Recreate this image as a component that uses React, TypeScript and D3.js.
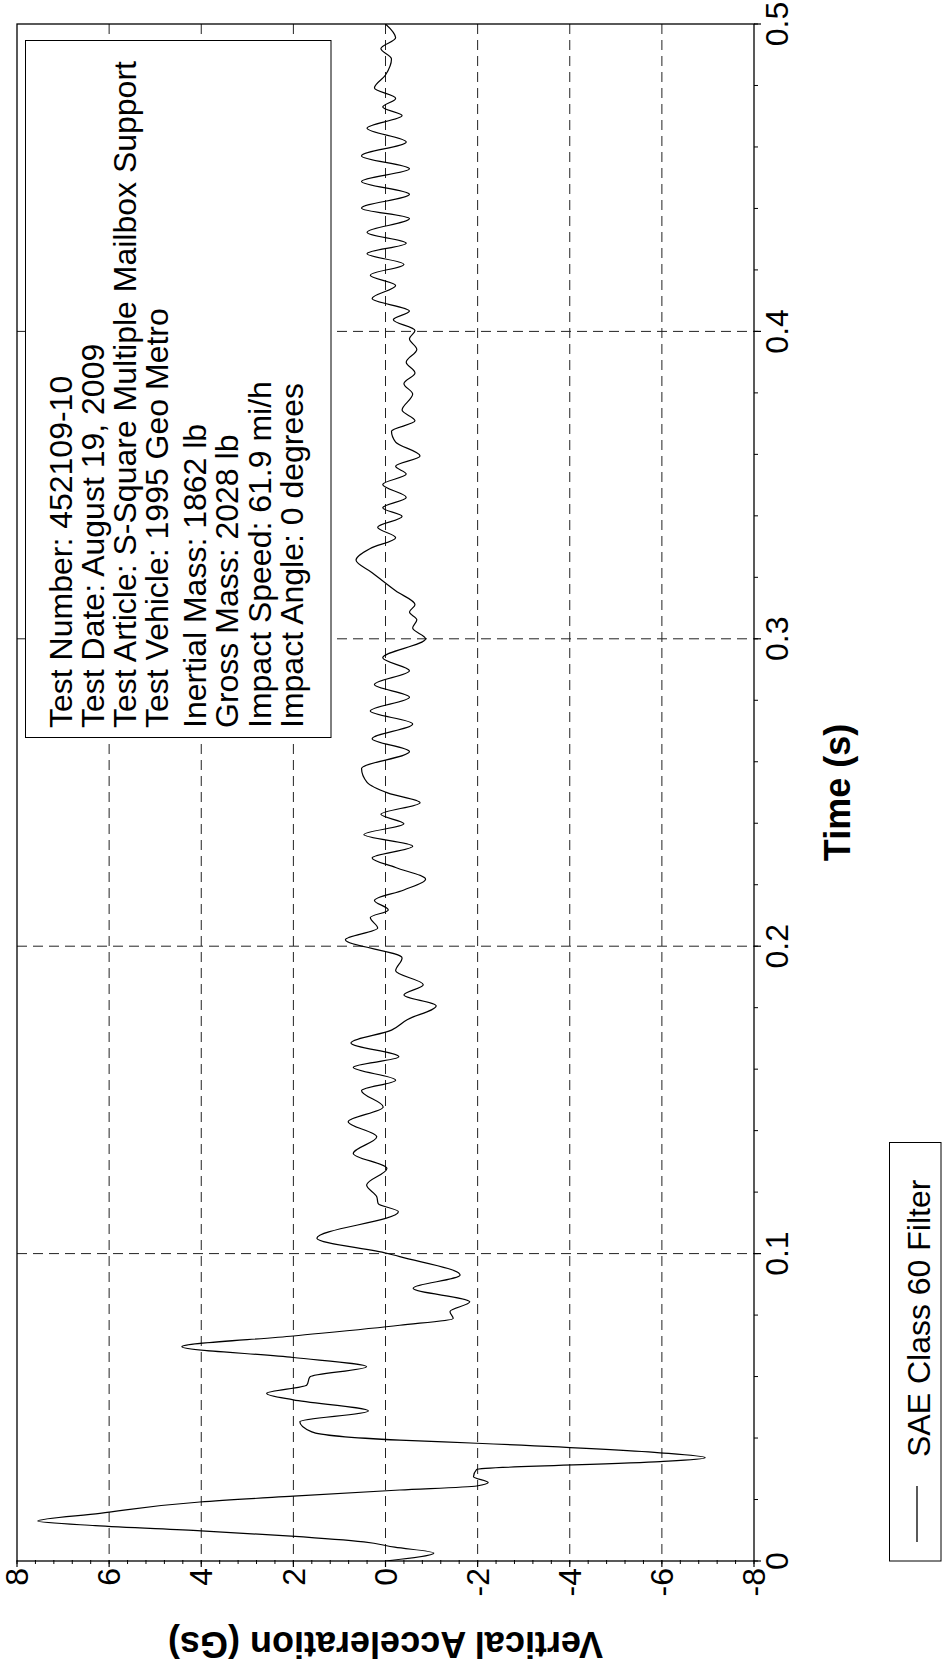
import React from 'react';
import * as d3 from 'd3';

const timeTicks = [0, 0.1, 0.2, 0.3, 0.4, 0.5];
const timeLabels = ['0', '0.1', '0.2', '0.3', '0.4', '0.5'];
const accelTicks = [8, 6, 4, 2, 0, -2, -4, -6, -8];
const accelLabels = ['8', '6', '4', '2', '0', '-2', '-4', '-6', '-8'];
const gridAccel = [6, 4, 2, 0, -2, -4, -6];
const gridTime = [0.1, 0.2, 0.3, 0.4];

const timeS = [
  0, 0.0026, 0.0045, 0.0062, 0.0081, 0.0098, 0.0115, 0.013,
  0.0155, 0.0192, 0.0211, 0.0231, 0.0244, 0.0255, 0.0274, 0.0298, 0.0323, 0.0336, 0.0352,
  0.0383, 0.0393, 0.042, 0.0453, 0.0488, 0.0524, 0.0545, 0.0572, 0.0599, 0.0632, 0.0662,
  0.0697, 0.0732, 0.0767, 0.0789, 0.0811, 0.0843, 0.0887, 0.093, 0.099, 0.1001, 0.105,
  0.1136, 0.1163, 0.1185, 0.1223, 0.1277, 0.1326, 0.138, 0.1429, 0.1477,
  0.153, 0.1564, 0.1606, 0.164, 0.1685, 0.1727, 0.1761, 0.1806, 0.1841, 0.1875, 0.192,
  0.1962, 0.2021, 0.2059, 0.2093, 0.2118, 0.2149, 0.2183, 0.2218, 0.2256, 0.2287, 0.2325,
  0.2363, 0.2398, 0.2429, 0.2467, 0.2498, 0.2533, 0.2578, 0.2633, 0.2675, 0.2723, 0.2765,
  0.281, 0.2851, 0.2896, 0.2938, 0.3, 0.3035, 0.3062, 0.3087, 0.3111, 0.3156, 0.3215,
  0.3256, 0.3294, 0.3329, 0.3363, 0.3398, 0.3426, 0.346, 0.3502, 0.3536, 0.3561, 0.3595,
  0.364, 0.3675, 0.3709, 0.3744, 0.3796, 0.383, 0.3865, 0.39, 0.3941, 0.3976, 0.4003,
  0.4038, 0.4066, 0.4107, 0.4149, 0.4183, 0.4218, 0.4253, 0.4287, 0.4322, 0.4367, 0.4401,
  0.4446, 0.4488, 0.4529, 0.4571, 0.4616, 0.4661, 0.4702, 0.473, 0.4758, 0.4792, 0.4834,
  0.4886, 0.492, 0.4955, 0.5,
];
const accelG = [
  0, -1.05, -0.2, 0.47, 2.05, 4.0, 6.3, 7.55,
  6.2, 4.03, 2.0, -0.31, -1.98, -2.23, -1.91, -1.98, -5.96, -6.94, -5.96,
  -1.98, -0.31, 1.6, 1.86, 0.37, 2.0, 2.58, 1.71, 1.64, 0.41, 2.0,
  4.42, 2.0, -0.31, -1.47, -1.4, -1.83, -0.6, -1.62, -0.31, -0.03, 1.49,
  -0.28, 0.16, 0.19, 0.41, -0.03, 0.7, 0.19, 0.81, 0.05,
  0.52, -0.22, 0.7, -0.29, 0.75, -0.13, -0.47, -1.1, -0.4, -0.82, -0.22,
  -0.36, 0.87, 0.17, 0.33, -0.06, 0.24, -0.4, -0.87, -0.22, 0.29, -0.59,
  0.47, -0.4, 0.1, -0.75, -0.06, 0.4, 0.52, -0.52, 0.29, -0.59, 0.33,
  -0.52, 0.24, -0.52, 0.06, -0.87, -0.59, -0.68, -0.52, -0.64, -0.22, 0.29,
  0.64, 0.33, -0.22, 0.17, -0.36, 0.06, -0.45, 0.06, -0.45, -0.22, -0.75,
  -0.22, -0.13, -0.64, -0.36, -0.59, -0.4, -0.64, -0.45, -0.68, -0.52, -0.64,
  -0.17, -0.52, 0.29, -0.22, 0.33, -0.4, 0.4, -0.45, 0.4, -0.52, 0.52,
  -0.52, 0.52, -0.52, 0.52, -0.45, 0.4, -0.36, 0.06, -0.22, 0.24, 0.0,
  -0.13, 0.1, -0.22, 0.0,
];

const infoLines = [
  'Test Number: 452109-10',
  'Test Date: August 19, 2009',
  'Test Article: S-Square Multiple Mailbox Support',
  'Test Vehicle: 1995 Geo Metro',
  'Inertial Mass: 1862 lb',
  'Gross Mass: 2028 lb',
  'Impact Speed: 61.9 mi/h',
  'Impact Angle: 0 degrees',
];
const infoBaselines = [72, 104, 136, 168, 206, 238, 271, 303];
const legendLabel = 'SAE Class 60 Filter';
const xTitle = 'Time (s)';
const yTitle = 'Vertical Acceleration (Gs)';

const FONT = '"Liberation Sans", Arial, Helvetica, sans-serif';

export default function App() {
  const W = 947;
  const H = 1669;
  const left = 17, right = 754, top = 24, bottom = 1561;
  const ax = d3.scaleLinear().domain([8, -8]).range([left, right]);
  const ty = d3.scaleLinear().domain([0, 0.5]).range([bottom, top]);

  // ordered by increasing page y (decreasing time) for the monotone-in-y spline
  const idx = d3.range(timeS.length).reverse();
  const path = d3
    .line<number>()
    .x((i) => ax(accelG[i]))
    .y((i) => ty(timeS[i]))
    .curve(d3.curveMonotoneY)(idx) || '';

  const minorAccel = d3.range(-8, 8.0001, 0.4);
  const minorTime = d3.range(0, 0.5001, 0.02);

  return (
    <svg
      width={W}
      height={H}
      viewBox={`0 0 ${W} ${H}`}
      style={{ position: 'absolute', left: 0, top: 0, background: '#fff' }}
      fontFamily={FONT}
    >
      <rect x={0} y={0} width={W} height={H} fill="#fff" />
      <defs>
        <clipPath id="plotClip">
          <rect x={left} y={top} width={right - left} height={bottom - top} />
        </clipPath>
      </defs>

      {gridAccel.map((v) => (
        <line key={'ga' + v} x1={ax(v)} x2={ax(v)} y1={top} y2={bottom} stroke="#222" strokeWidth={1} strokeDasharray="10,6" />
      ))}
      {gridTime.map((v) => (
        <line key={'gt' + v} x1={left} x2={right} y1={ty(v)} y2={ty(v)} stroke="#222" strokeWidth={1} strokeDasharray="10,6" />
      ))}

      <path d={path} fill="none" stroke="#000" strokeWidth={1.2} clipPath="url(#plotClip)" />

      <rect x={25.5} y={40.5} width={305.5} height={697} fill="#fff" stroke="#000" strokeWidth={1} />
      {infoLines.map((s, i) => (
        <text
          key={s}
          transform={`translate(${infoBaselines[i]},728) rotate(-90)`}
          fontSize={32}
          fill="#000"
        >
          {s}
        </text>
      ))}

      <rect x={left} y={top} width={right - left} height={bottom - top} fill="none" stroke="#000" strokeWidth={1.3} />

      {minorAccel.map((v) => (
        <line key={'ma' + v.toFixed(2)} x1={ax(v)} x2={ax(v)} y1={bottom - 1} y2={bottom + 3} stroke="#000" strokeWidth={1} />
      ))}
      {accelTicks.map((v) => (
        <line key={'Ma' + v} x1={ax(v)} x2={ax(v)} y1={bottom} y2={bottom + 6} stroke="#000" strokeWidth={1.2} />
      ))}
      {accelTicks.map((v, i) => (
        <text
          key={'la' + v}
          transform={`translate(${ax(v)},1568) rotate(-90)`}
          textAnchor="end"
          dy="0.35em"
          fontSize={32}
          fill="#000"
        >
          {accelLabels[i]}
        </text>
      ))}

      {minorTime.map((v) => (
        <line key={'mt' + v.toFixed(3)} x1={right} x2={right + 4} y1={ty(v)} y2={ty(v)} stroke="#000" strokeWidth={1} />
      ))}
      {timeTicks.map((v) => (
        <line key={'Mt' + v} x1={right} x2={right + 7} y1={ty(v)} y2={ty(v)} stroke="#000" strokeWidth={1.2} />
      ))}
      {timeTicks.map((v, i) => (
        <text
          key={'lt' + v}
          transform={`translate(788,${ty(v)}) rotate(-90)`}
          textAnchor="middle"
          fontSize={32}
          fill="#000"
        >
          {timeLabels[i]}
        </text>
      ))}

      <text
        transform={`translate(850,${(top + bottom) / 2}) rotate(-90)`}
        textAnchor="middle"
        fontSize={36}
        fontWeight="bold"
        fill="#000"
      >
        {xTitle}
      </text>
      <text
        transform={`translate(${(left + right) / 2},1632) rotate(180)`}
        textAnchor="middle"
        fontSize={36}
        fontWeight="bold"
        fill="#000"
      >
        {yTitle}
      </text>

      <rect x={889.5} y={1142.5} width={51.5} height={418.5} fill="#fff" stroke="#000" strokeWidth={1} />
      <line x1={917} x2={917} y1={1486} y2={1542} stroke="#000" strokeWidth={1.3} />
      <text transform={`translate(930,1457) rotate(-90)`} fontSize={32} fill="#000">
        {legendLabel}
      </text>
    </svg>
  );
}
